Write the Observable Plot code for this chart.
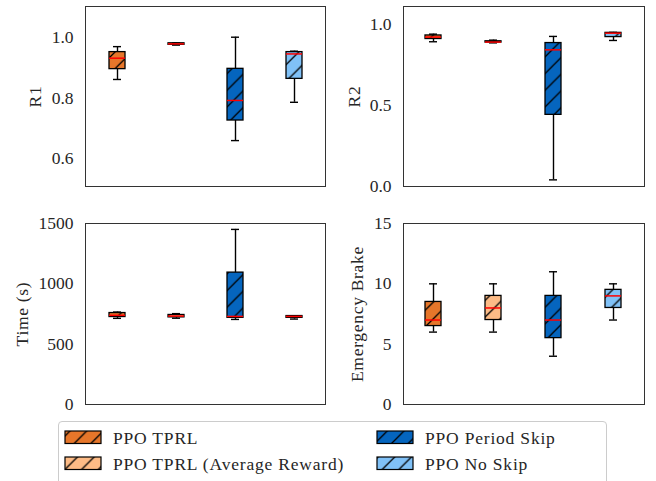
<!DOCTYPE html>
<html><head><meta charset="utf-8">
<script src="https://cdn.jsdelivr.net/npm/d3@7"></script>
<script src="https://cdn.jsdelivr.net/npm/@observablehq/plot@0.6"></script>
<style>
body{margin:0;background:#fff;}
#root{position:relative;width:656px;height:481px;font-family:"Liberation Serif",serif;color:#262626;overflow:hidden;background:#fff}
#root > svg, #root > div{position:absolute}
#root svg text{font-family:"Liberation Serif",serif !important;}
</style></head><body><div id="root"></div>
<script>
const categories = ["PPO TPRL", "PPO TPRL (Average Reward)", "PPO Period Skip", "PPO No Skip"];
const colors = ["#E6762A", "#FDBB86", "#0565BE", "#80C1F7"];
// each entry: [whisker low, Q1, median, Q3, whisker high]
const r1 = [[0.861, 0.895, 0.931, 0.951, 0.969], [0.974, 0.975, 0.978, 0.980, 0.981], [0.660, 0.726, 0.792, 0.896, 1.000], [0.786, 0.863, 0.945, 0.951, 0.954]];
const r2 = [[0.895, 0.912, 0.924, 0.934, 0.942], [0.888, 0.890, 0.893, 0.898, 0.905], [0.041, 0.443, 0.845, 0.887, 0.928], [0.903, 0.924, 0.948, 0.950, 0.953]];
const time = [[714, 725, 739, 758, 766], [715, 722, 733, 742, 753], [705, 718, 730, 1093, 1451], [708, 718, 730, 733, 736]];
const brake = [[6, 6.5, 7, 8.5, 10], [6, 7, 8, 9, 10], [4, 5.5, 7, 9, 11], [7, 8, 9, 9.5, 10]];
const r1Ticks = [0.6, 0.8, 1.0];
const r2Ticks = [0.0, 0.5, 1.0];
const timeTicks = [0, 500, 1000, 1500];
const brakeTicks = [0, 5, 10, 15];

const root = document.getElementById("root");
const FONT = "Liberation Serif";
const FS = 17.5;

// hatch patterns
const NS = "http://www.w3.org/2000/svg";
const defsSvg = document.createElementNS(NS, "svg");
defsSvg.setAttribute("width", 0); defsSvg.setAttribute("height", 0);
defsSvg.style.left = "0px"; defsSvg.style.top = "0px";
const H = 16.7;
defsSvg.innerHTML = "<defs>" + colors.map((c, i) =>
  `<pattern id="hatch${i}" patternUnits="userSpaceOnUse" width="${H}" height="${H}">
     <rect width="${H}" height="${H}" fill="${c}"/>
     <path d="M0,${H} L${H},0 M-2,2 L2,-2 M${H-2},${H+2} L${H+2},${H-2}" stroke="#000" stroke-width="1.3"/>
   </pattern>`).join("") + "</defs>";
root.appendChild(defsSvg);

function panel(stats, domain, ticks, fmt, label, labelOffset, pos) {
  const rows = categories.map((c, i) => ({cat: c, lo: stats[i][0], q1: stats[i][1], med: stats[i][2], q3: stats[i][3], hi: stats[i][4], fill: `url(#hatch${i})`}));
  const p = Plot.plot({
    width: pos.w, height: pos.h,
    marginLeft: pos.ml, marginRight: pos.mr, marginTop: pos.mt, marginBottom: pos.mb,
    style: {fontFamily: FONT, fontSize: FS + "px", color: "#262626", background: "transparent", overflow: "visible"},
    x: {type: "band", domain: categories, paddingInner: 0.733, paddingOuter: 0.367, axis: null},
    y: {domain, axis: null, label: null},
    color: {type: "identity"},
    marks: [
      Plot.ruleX(rows, {x: "cat", y1: "lo", y2: "hi", stroke: "#000", strokeWidth: 1.4}),
      Plot.tickY(rows, {x: "cat", y: "lo", stroke: "#000", strokeWidth: 1.4, insetLeft: 4, insetRight: 4}),
      Plot.tickY(rows, {x: "cat", y: "hi", stroke: "#000", strokeWidth: 1.4, insetLeft: 4, insetRight: 4}),
      Plot.barY(rows, {x: "cat", y1: "q1", y2: "q3", fill: "fill", stroke: "#000", strokeWidth: 1.3}),
      Plot.tickY(rows, {x: "cat", y: "med", stroke: "#f00", strokeWidth: 1.5}),
      Plot.axisY({ticks, tickFormat: fmt, tickSize: 0, tickPadding: 12, label: null, fontSize: FS, fontFamily: FONT, fill: "#262626"}),
      Plot.axisY({ticks: [], tickSize: 0, label, labelArrow: "none", labelAnchor: "center", labelOffset, fontSize: FS, fontFamily: FONT, fill: "#262626"}),
      Plot.frame({stroke: "#333", strokeWidth: 1})
    ]
  });
  p.style.left = pos.x + "px"; p.style.top = pos.y + "px";
  root.appendChild(p);
  p.querySelectorAll("text").forEach(t => { if (t.textContent === label) t.style.letterSpacing = "0.7px"; });
}

const f1 = d3.format(".1f"), fd = d3.format("d");
panel(r1, [0.509, 1.101], r1Ticks, f1, "R1", 57, {x: 0, y: 0, w: 330, h: 190, ml: 85, mr: 5, mt: 6, mb: 4});
panel(r2, [0, 1.113], r2Ticks, f1, "R2", 56, {x: 318, y: 0, w: 338, h: 190, ml: 85, mr: 12, mt: 6, mb: 4});
panel(time, [0, 1500], timeTicks, fd, "Time (s)", 70, {x: 0, y: 217, w: 330, h: 190, ml: 85, mr: 5, mt: 6, mb: 3});
panel(brake, [0, 15], brakeTicks, fd, "Emergency Brake", 53, {x: 318, y: 217, w: 338, h: 190, ml: 85, mr: 12, mt: 6, mb: 3});

// legend
const leg = document.createElement("div");
leg.style.cssText = "left:58px;top:421px;width:547px;height:70px;border:1px solid #ccc;border-radius:4px;background:#fff;";
root.appendChild(leg);
const lsvg = document.createElementNS(NS, "svg");
lsvg.setAttribute("width", 656); lsvg.setAttribute("height", 481);
lsvg.style.left = "0px"; lsvg.style.top = "0px";
const slots = [[65, 431], [65, 457], [377, 431], [377, 457]];
lsvg.innerHTML = categories.map((c, i) => {
  const [x, y] = slots[i];
  return `<rect x="${x}" y="${y}" width="36" height="12.5" fill="url(#hatch${i})" stroke="#000" stroke-width="1.2"/>
  <text x="${x + 48}" y="${y + 12.5}" font-family="${FONT}" font-size="${FS}" letter-spacing="0.8" fill="#262626">${c}</text>`;
}).join("");
root.appendChild(lsvg);
</script></body></html>
